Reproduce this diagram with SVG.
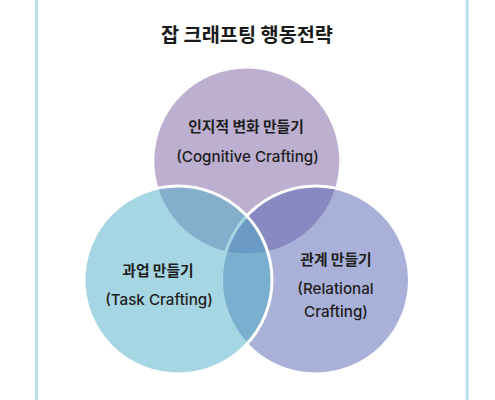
<svg xmlns="http://www.w3.org/2000/svg" width="495" height="400" viewBox="0 0 495 400">
<style>
.frame{stroke:#b8dfe8;stroke-width:3;fill:none}
.title{font-family:"Noto Sans CJK KR","Noto Sans",sans-serif;font-size:19.7px;font-weight:700;fill:#1a1a1a;text-anchor:middle}
.ko{font-family:"Noto Sans CJK KR","Noto Sans",sans-serif;font-size:14.8px;font-weight:700;fill:#1e1e1e;text-anchor:middle}
.en{font-family:Inter,"Noto Sans","Noto Sans CJK KR",sans-serif;font-size:15.2px;font-weight:500;fill:#1e1e1e;text-anchor:middle}
.c{fill-opacity:0.5}
.edge{stroke:#ffffff;stroke-width:3}
</style>
<rect width="495" height="400" fill="#ffffff"/>
<g id="frame">
<line class="frame" x1="36.5" y1="0" x2="36.5" y2="400"/>
<line class="frame" x1="467.2" y1="0" x2="467.2" y2="400"/>
</g>
<text id="title" class="title" x="247" y="42">잡 크래프팅 행동전략</text>
<g id="connectors"></g>
<g id="node-cognitive">
<circle class="c" cx="246.8" cy="161" r="92.5" fill="#7a5fa1"/>
<text class="ko" x="246" y="131.5">인지적 변화 만들기</text>
<text class="en" x="247.5" y="162">(Cognitive Crafting)</text>
</g>
<g id="node-relational">
<circle class="c edge" cx="315.5" cy="280" r="94" fill="#5363b1"/>
<text class="ko" x="336" y="264.5">관계 만들기</text>
<text class="en" x="335.5" y="294">(Relational</text>
<text class="en" x="336" y="317">Crafting)</text>
</g>
<g id="node-task">
<circle class="c edge" cx="178" cy="280" r="94" fill="#4dadc7"/>
<text class="ko" x="158" y="275.5">과업 만들기</text>
<text class="en" x="159" y="305">(Task Crafting)</text>
</g>
</svg>
